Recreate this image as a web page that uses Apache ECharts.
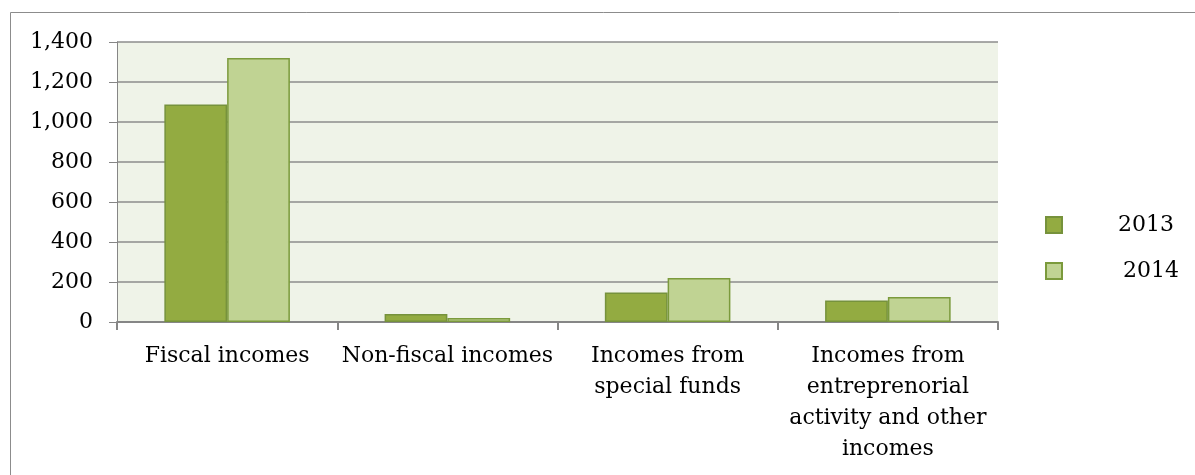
<!DOCTYPE html>
<html>
<head>
<meta charset="utf-8">
<script src="https://cdn.jsdelivr.net/npm/echarts@6/dist/echarts.min.js"></script>
<style>
  html, body { margin: 0; padding: 0; background: #fff; }
  #chart { width: 1195px; height: 475px; }
</style>
</head>
<body>
<div id="chart"></div>
<script>
// Budget incomes by source, 2013 vs 2014
const categories = [
  'Fiscal incomes',
  'Non-fiscal incomes',
  'Incomes from\nspecial funds',
  'Incomes from\nentreprenorial\nactivity and other\nincomes'
];
const values2013 = [1088, 40, 147, 107];
const values2014 = [1320, 20, 220, 125];
const yTicks = { min: 0, max: 1400, interval: 200 };

const FONT = 'DejaVu Serif';
const chart = echarts.init(document.getElementById('chart'), null, { renderer: 'canvas' });

chart.setOption({
  animation: false,
  backgroundColor: '#ffffff',
  graphic: [{
    type: 'rect',
    shape: { x: 10.5, y: 12.5, width: 1200, height: 480 },
    style: { fill: 'none', stroke: '#8c8c8c', lineWidth: 1 },
    silent: true,
    z: -10
  }],
  grid: {
    left: 117, top: 42, width: 881, height: 280,
    show: true, backgroundColor: '#eff3e8', borderWidth: 0
  },
  legend: {
    orient: 'vertical',
    left: 1040, top: 209,
    itemWidth: 16, itemHeight: 16, itemGap: 24,
    icon: 'rect',
    textStyle: { fontFamily: FONT, fontSize: 22, color: '#000' },
    data: [
      { name: '2013', textStyle: { padding: [0, 0, 0, 51] } },
      { name: '2014', textStyle: { padding: [0, 0, 0, 56] } }
    ]
  },
  xAxis: {
    type: 'category',
    data: categories,
    axisLine: { lineStyle: { color: '#868686', width: 2 } },
    axisTick: { show: true, length: 8, lineStyle: { color: '#868686', width: 2 } },
    axisLabel: {
      fontFamily: FONT, fontSize: 22, color: '#000', lineHeight: 31,
      margin: 19, interval: 0, align: 'center'
    },
    splitLine: { show: false }
  },
  yAxis: {
    type: 'value',
    min: yTicks.min, max: yTicks.max, interval: yTicks.interval,
    axisLine: { show: true, lineStyle: { color: '#868686', width: 1 } },
    axisTick: { show: true, length: 8, lineStyle: { color: '#868686' } },
    axisLabel: {
      fontFamily: FONT, fontSize: 22, color: '#000', margin: 24,
      formatter: v => v.toLocaleString('en-US')
    },
    splitLine: { show: true, lineStyle: { color: '#8c8c8c', width: 1.5 } }
  },
  series: [
    {
      name: '2013', type: 'bar', data: values2013,
      barGap: '0%', barCategoryGap: '43%',
      itemStyle: { color: '#93ab41', borderColor: '#76923c', borderWidth: 1.5 }
    },
    {
      name: '2014', type: 'bar', data: values2014,
      itemStyle: { color: '#c0d393', borderColor: '#7b9a3c', borderWidth: 1.5 }
    }
  ]
});
</script>
</body>
</html>
